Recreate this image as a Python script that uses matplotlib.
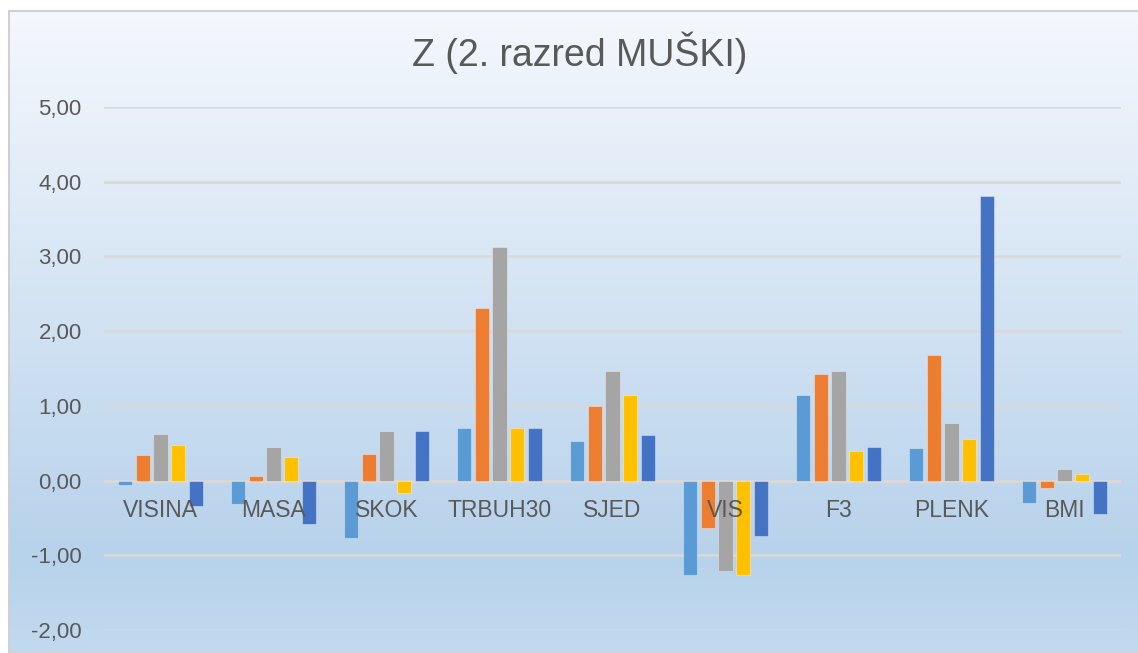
import numpy as np
import matplotlib
matplotlib.use("Agg")
import matplotlib.pyplot as plt
from matplotlib.patches import Rectangle
from matplotlib.ticker import FuncFormatter

plt.rcParams['font.family'] = ['Liberation Sans', 'DejaVu Sans']

# data
kategorije = ["VISINA", "MASA", "SKOK", "TRBUH30", "SJED", "VIS", "F3", "PLENK", "BMI"]
serija1 = [-0.06, -0.32, -0.77, 0.70, 0.53, -1.27, 1.14, 0.44, -0.30]
serija2 = [0.34, 0.06, 0.36, 2.31, 1.00, -0.63, 1.42, 1.68, -0.10]
serija3 = [0.62, 0.45, 0.66, 3.12, 1.46, -1.21, 1.46, 0.77, 0.15]
serija4 = [0.48, 0.32, -0.16, 0.70, 1.15, -1.27, 0.40, 0.55, 0.085]
serija5 = [-0.34, -0.58, 0.66, 0.70, 0.61, -0.74, 0.45, 3.81, -0.45]
y_ticks = [-2, -1, 0, 1, 2, 3, 4, 5]

boje = ["#5B9BD5", "#ED7D31", "#A5A5A5", "#FFC000", "#4472C4"]
serije = [serija1, serija2, serija3, serija4, serija5]

W, H = 1138, 653
fig = plt.figure(figsize=(W / 100, H / 100), dpi=100)
fig.patch.set_facecolor("white")

# gradient background of the chart area
bx0, by_top = 9, 11
bg = fig.add_axes([bx0 / W, 0, 1 - bx0 / W, (H - by_top) / H])
t = np.linspace(0, 1, 400)
stops = [0, 0.85, 1.0]
cols = np.array([[245, 248, 253], [183, 210, 235], [194, 218, 239]]) / 255
img = np.stack([np.interp(t, stops, cols[:, k]) for k in range(3)], axis=-1)[:, None, :]
bg.imshow(img, aspect="auto", extent=[0, 1, 0, 1])
bg.set_axis_off()
fig.patches.append(Rectangle((bx0 / W, 0), 1 - bx0 / W + 0.01, (H - by_top) / H,
                             transform=fig.transFigure, fill=False,
                             edgecolor="#D0D0D0", linewidth=1.5))

ax = fig.add_axes([104 / W, (H - 630) / H, (1121 - 104) / W, (630 - 107) / H])
ax.set_facecolor("none")

x = np.arange(len(kategorije))
step = 0.155
bw = 0.124
for i, (vals, c) in enumerate(zip(serije, boje)):
    ax.bar(x + (i - 2) * step, vals, width=bw, color=c,
           edgecolor=(1, 1, 1, 0.35), linewidth=0.8, zorder=3)

ax.set_xlim(-0.5, len(kategorije) - 0.5)
ax.set_ylim(-2, 5)
ax.set_yticks(y_ticks)
ax.yaxis.set_major_formatter(FuncFormatter(lambda v, p: f"{v:.2f}".replace(".", ",")))
ax.tick_params(axis="y", length=0, pad=16, labelsize=16, labelcolor="#595959")
ax.set_xticks([])
ax.grid(axis="y", color="#D9D9D9", linewidth=1.8, zorder=0)
ax.axhline(0, color="#D9D9D9", linewidth=2, zorder=2)
for s in ax.spines.values():
    s.set_visible(False)

for xi, lab in zip(x, kategorije):
    ax.annotate(lab, (xi, 0), xytext=(0, -26), textcoords="offset points",
                ha="center", va="baseline", fontsize=16.5, color="#595959", zorder=4)

fig.text(580 / W, (H - 66) / H, "Z (2. razred MUŠKI)", ha="center", va="baseline",
         fontsize=27, color="#595959")

fig.savefig("out.png", dpi=100)
